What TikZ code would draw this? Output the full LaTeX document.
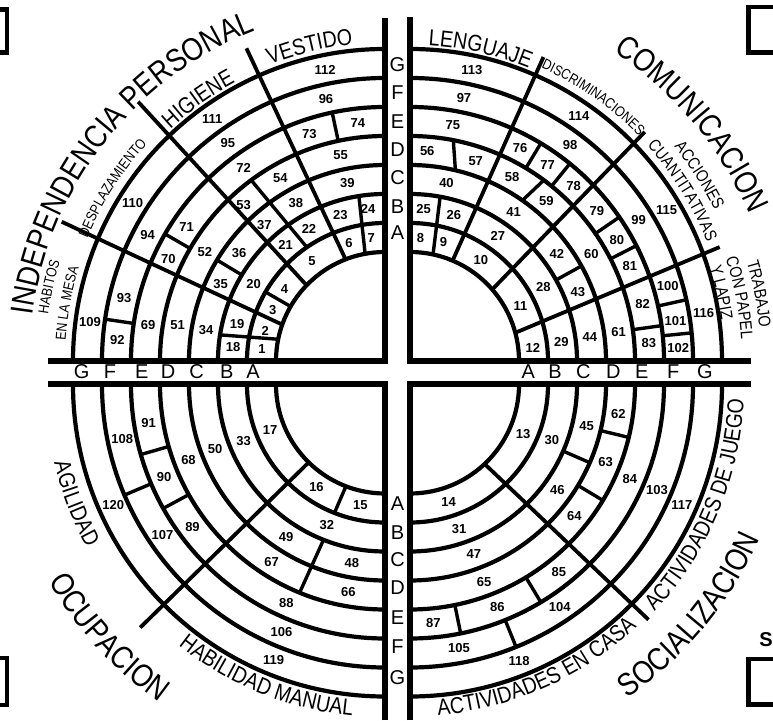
\documentclass[tikz,border=0pt]{standalone}
\usepackage{fontspec}
\setmainfont{Liberation Sans}
\newfontfamily\narrowsans[FakeStretch=0.85]{Liberation Sans}
\usetikzlibrary{decorations.text}

\newcommand{\labbig}{\narrowsans\fontsize{32}{32}\selectfont}
\newcommand{\labmid}{\narrowsans\fontsize{23}{23}\selectfont}
\newcommand{\labsmall}{\narrowsans\fontsize{17}{17}\selectfont}
\newcommand{\labtiny}{\narrowsans\fontsize{14.5}{14.5}\selectfont}

% radius of ring boundary k (0 = inside of A, 7 = outside of G)
\pgfmathdeclarefunction{ringr}{1}{\pgfmathparse{109+29*#1}}

% curved labels: centre, mid angle, half span, radius, text
\newcommand{\cwlabel}[5]{\path[decorate,decoration={text along path,text align=center,text={#5}}]
  (#1) ++(#2+#3:#4) arc[start angle=#2+#3,end angle=#2-#3,radius=#4];}
\newcommand{\ccwlabel}[5]{\path[decorate,decoration={text along path,text align=center,text={#5}}]
  (#1) ++(#2-#3:#4) arc[start angle=#2-#3,end angle=#2+#3,radius=#4];}

\tikzset{
  ring/.style={line width=4.2pt},
  axis/.style={line width=6pt,line join=miter},
  divider/.style={line width=3.8pt},
  cellline/.style={line width=3.4pt},
  num/.style={font=\bfseries\fontsize{13}{13}\selectfont,inner sep=0pt},
  axisletter/.style={font=\fontsize{20}{20}\selectfont,inner sep=0pt},
  frame/.style={line width=4.5pt,line join=miter}
}

\begin{document}
\begin{tikzpicture}[x=1pt,y=1pt]
  \useasboundingbox (0,0) rectangle (773,720);
  \clip (0,0) rectangle (773,720);
  % quadrant centres
  \coordinate (tl) at (385,359);
  \coordinate (tr) at (410,359);
  \coordinate (bl) at (385,335.5);
  \coordinate (br) at (410,335.5);

  % rings A..G
  \foreach \c/\a in {tl/90,tr/0,bl/180,br/270}
    \foreach \k in {0,...,7}
      \draw[ring] (\c) ++(\a:{ringr(\k)}) arc[start angle=\a,delta angle=90,radius={ringr(\k)}];

  % cross
  \draw[axis] (385,702) -- (tl) -- (48,359);
  \draw[axis] (410,703) -- (tr) -- (751,359);
  \draw[axis] (385,0) -- (bl) -- (48,335.5);
  \draw[axis] (410,0) -- (br) -- (751,335.5);

  % independencia personal
  \begin{scope}[shift={(tl)}]
    \draw[divider] (156.7:352) -- (160.5:{ringr(0)});
    \draw[divider] (133.6:358) -- (136:{ringr(0)});
    \draw[divider] (113.9:342) -- (111.2:{ringr(0)});
    \draw[cellline] (171:{ringr(2)}) -- (168.5:{ringr(0)});
    \draw[cellline] (150:{ringr(0)}) -- (150:{ringr(1)});
    \draw[cellline] (149:{ringr(2)}) -- (149:{ringr(3)});
    \draw[cellline] (150:{ringr(4)}) -- (150:{ringr(5)});
    \draw[cellline] (126.5:{ringr(4)}) -- (124.5:{ringr(1)});
    \draw[cellline] (99:{ringr(2)}) -- (100.5:{ringr(0)});
    \draw[cellline] (102:{ringr(4)}) -- (102:{ringr(5)});
    \draw[cellline] (171.5:{ringr(5)}) -- (171.5:{ringr(6)});
    \foreach \a/\k/\n in {174.4/0/1,165.8/0/2,155.5/0/3,144.4/0/4,126.3/0/5,107/0/6,96.4/0/7,
        174.8/1/18,165.9/1/19,149.5/1/20,130.7/1/21,119.9/1/22,107/1/23,96.4/1/24,
        170.2/2/34,155/2/35,143.5/2/36,131.7/2/37,119.4/2/38,102/2/39,
        170.2/3/51,148.9/3/52,132.2/3/53,119.8/3/54,102.2/3/55,
        171.4/4/69,154.8/4/70,145.9/4/71,126.2/4/72,108.4/4/73,96.5/4/74,
        175.5/5/92,166.4/5/93,152.1/5/94,125.8/5/95,102.7/5/96,
        172.5/6/109,148/6/110,125.5/6/111,101.6/6/112}
      \node[num] (n\n) at (\a:{ringr(\k)+14.5}) {\n};
  \end{scope}

  % comunicacion
  \begin{scope}[shift={(tr)}]
    \draw[divider] (66.3:332) -- (67:{ringr(0)});
    \draw[divider] (44.3:328) -- (41:{ringr(0)});
    \draw[divider] (20.2:330) -- (15:{ringr(0)});
    \draw[cellline] (79.6:{ringr(2)}) -- (77.8:{ringr(0)});
    \draw[cellline] (29:{ringr(2)}) -- (29:{ringr(3)});
    \draw[cellline] (76.6:{ringr(3)}) -- (78.9:{ringr(4)});
    \draw[cellline] (55:{ringr(3)}) -- (53.5:{ringr(4)});
    \foreach \a in {59,51,34.5,27,8}
      \draw[cellline] (\a:{ringr(4)}) -- (\a:{ringr(5)});
    \foreach \a in {12.5,5.7}
      \draw[cellline] (\a:{ringr(5)}) -- (\a:{ringr(6)});
    \foreach \a/\k/\n in {85.1/0/8,74.3/0/9,55/0/10,26.6/0/11,6.2/0/12,
        84.9/1/25,73.3/1/26,54.8/1/27,29/1/28,7/1/29,
        78.4/2/40,55.2/2/41,36/2/42,22.4/2/43,7.5/2/44,
        85.3/3/56,71.8/3/57,61/3/58,49.6/3/59,30.5/3/60,7.8/3/61,
        79.7/4/75,62.6/4/76,54.9/4/77,46.9/4/78,38.7/4/79,30.3/4/80,23.3/4/81,13.8/4/82,4.4/4/83,
        78.4/5/97,53.4/5/98,31.6/5/99,16.3/5/100,8.5/5/101,2.7/5/102,
        78/6/113,55.4/6/114,30.4/6/115,9.3/6/116}
      \node[num] (n\n) at (\a:{ringr(\k)+14.5}) {\n};
  \end{scope}

  % ocupacion
  \begin{scope}[shift={(bl)}]
    \draw[divider] (224.8:345) -- (225.6:{ringr(0)});
    \draw[cellline] (249:{ringr(0)}) -- (248.5:{ringr(1)});
    \draw[cellline] (248.4:{ringr(2)}) -- (247.7:{ringr(4)});
    \draw[cellline] (196:{ringr(4)}) -- (196:{ringr(5)});
    \draw[cellline] (209.3:{ringr(4)}) -- (209.2:{ringr(5)});
    \draw[cellline] (203:{ringr(5)}) -- (203:{ringr(6)});
    \foreach \a/\k/\n in {201.5/0/17,236.3/0/16,258.5/0/15,
        201.9/1/33,247.6/1/32,
        200.7/2/50,237/2/49,259.5/2/48,
        201/3/68,237.4/3/67,260/3/66,
        189.2/4/91,202.8/4/90,216.5/4/89,245.7/4/88,
        191.8/5/108,214/5/107,247.3/5/106,
        204/6/120,248/6/119}
      \node[num] (n\n) at (\a:{ringr(\k)+14.5}) {\n};
  \end{scope}

  % socializacion
  \begin{scope}[shift={(br)}]
    \draw[divider] (315.4:335) -- (313.2:{ringr(0)});
    \draw[cellline] (336.5:{ringr(2)}) -- (336.5:{ringr(3)});
    \draw[cellline] (346.4:{ringr(3)}) -- (346.4:{ringr(4)});
    \draw[cellline] (329:{ringr(3)}) -- (329:{ringr(4)});
    \draw[cellline] (301:{ringr(4)}) -- (301:{ringr(5)});
    \draw[cellline] (281.5:{ringr(4)}) -- (281.5:{ringr(5)});
    \draw[cellline] (292:{ringr(5)}) -- (292:{ringr(6)});
    \foreach \a/\k/\n in {336.3/0/13,288.2/0/14,
        338.5/1/30,288.8/1/31,
        346.8/2/45,324.3/2/46,290.6/2/47,
        352/3/62,338.3/3/63,321.3/3/64,290.6/3/65,
        336.7/4/84,308.4/4/85,291.4/4/86,275.6/4/87,
        336.9/5/103,303.9/5/104,280.5/5/105,
        336/6/117,291.5/6/118}
      \node[num] (n\n) at (\a:{ringr(\k)+14.5}) {\n};
  \end{scope}

  % ring letters
  \foreach \l/\x in {A/253,B/226.7,C/196.7,D/168,E/141.7,F/110,G/81.7}
    \node[axisletter] (l\l) at (\x,348.5) {\l};
  \foreach \l/\x in {A/528.3,B/555,C/583.3,D/613.3,E/641.7,F/673.3,G/705}
    \node[axisletter] (r\l) at (\x,348.5) {\l};
  \foreach \l/\y in {A/487,B/513,C/542,D/570,E/598,F/627,G/655}
    \node[axisletter] (t\l) at (397.5,\y) {\l};
  \foreach \l/\y in {A/216.7,B/187,C/160,D/132,E/102,F/73,G/42}
    \node[axisletter] (b\l) at (397.5,\y) {\l};

  % area names
  \cwlabel{tl}{142}{45}{355}{|\labbig|INDEPENDENCIA PERSONAL}
  \cwlabel{tr}{40}{40}{370}{|\labbig|COMUNICACION}
  \ccwlabel{bl}{222.5}{40}{390}{|\labbig|OCUPACION}
  \ccwlabel{br}{320.5}{40}{382}{|\labbig|SOCIALIZACION}

  % sub-area names
  \cwlabel{tl}{103.5}{14}{318}{|\labmid|VESTIDO}
  \cwlabel{tl}{125.5}{14}{316}{|\labmid|HIGIENE}
  \cwlabel{tl}{147.6}{14}{322}{|\labtiny|DESPLAZAMIENTO}
  \cwlabel{tl}{167.5}{12}{340}{|\labtiny|HABITOS}
  \cwlabel{tl}{169.7}{12}{320}{|\labtiny|EN LA MESA}
  \cwlabel{tr}{77.3}{14}{316}{|\labmid|LENGUAJE}
  \cwlabel{tr}{55.2}{14}{321}{|\labtiny|DISCRIMINACIONES}
  \cwlabel{tr}{32.7}{14}{340}{|\labsmall|ACCIONES}
  \cwlabel{tr}{32}{16}{320}{|\labsmall|CUANTITATIVAS}
  \cwlabel{tr}{12.4}{12}{314}{|\labsmall|Y LAPIZ}
  \cwlabel{tr}{10.9}{12}{332}{|\labsmall|CON PAPEL}
  \cwlabel{tr}{10.9}{12}{351}{|\labsmall|TRABAJO}
  \ccwlabel{bl}{201}{14}{340}{|\labmid|AGILIDAD}
  \ccwlabel{bl}{248}{25}{333}{|\labmid|HABILIDAD MANUAL}
  \ccwlabel{br}{337.3}{30}{334}{|\labmid|ACTIVIDADES DE JUEGO}
  \ccwlabel{br}{294}{30}{332}{|\labmid|ACTIVIDADES EN CASA}

  % page edges of the scan
  \draw[frame] (0,710.5) -- (7,710.5) -- (7,667.5) -- (0,667.5);
  \draw[frame] (773,713) -- (748.5,713) -- (748.5,667.5) -- (773,667.5);
  \draw[frame] (0,62) -- (7,62) -- (7,15) -- (0,15);
  \draw[frame] (773,61) -- (748.5,61) -- (748.5,15.5) -- (773,15.5);
  \node[font=\bfseries\fontsize{20}{20}\selectfont] (s) at (766,80) {S};
\end{tikzpicture}
\end{document}
